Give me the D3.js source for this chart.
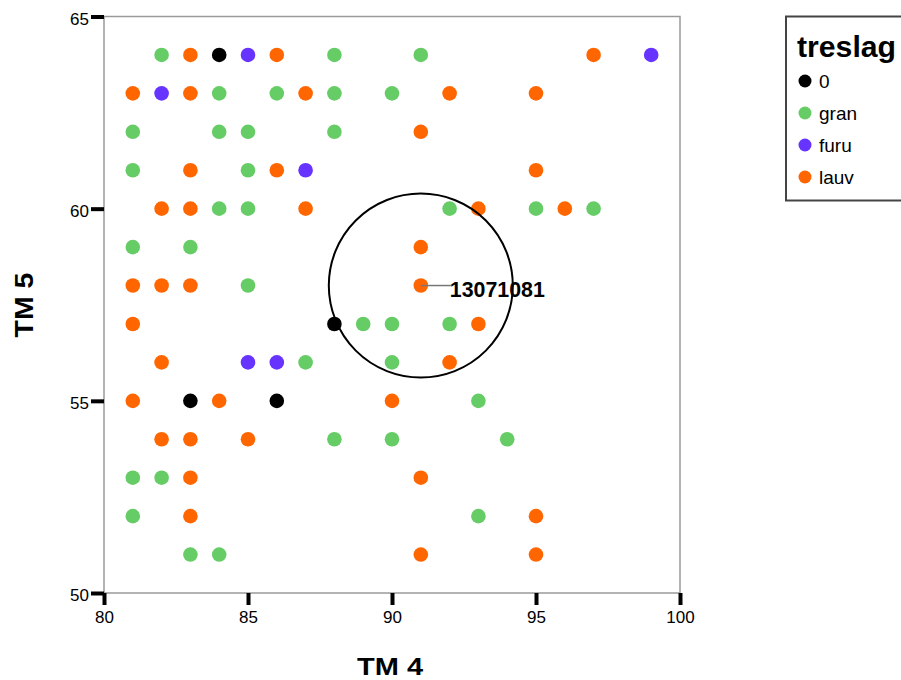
<!DOCTYPE html>
<html>
<head>
<meta charset="utf-8">
<script src="https://cdn.jsdelivr.net/npm/d3@7"></script>
<style>
  html, body { margin: 0; padding: 0; background: #fff; }
  svg { display: block; font-family: "Liberation Sans", Arial, sans-serif; }
</style>
</head>
<body>
<svg id="chart" width="901" height="680"></svg>
<script>
// Tree species groups (treslag) and their colours
const groups = ["0", "gran", "furu", "lauv"];
const groupColors = ["#000000", "#66cc66", "#6633ff", "#ff6600"];

// TM 4 / TM 5 values per group
const tm4_0 = [84, 88, 83, 86];
const tm5_0 = [64, 57, 55, 55];

const tm4_furu = [85, 99, 82, 87, 85, 86];
const tm5_furu = [64, 64, 63, 61, 56, 56];

const tm4_gran = [82, 88, 91, 84, 86, 88, 90, 81, 84, 85, 88, 81, 85, 84, 85, 92, 95, 97,
                  81, 83, 85, 89, 90, 92, 87, 90, 93, 88, 90, 94, 81, 82, 81, 93, 83, 84];
const tm5_gran = [64, 64, 64, 63, 63, 63, 63, 62, 62, 62, 62, 61, 61, 60, 60, 60, 60, 60,
                  59, 59, 58, 57, 57, 57, 56, 56, 55, 54, 54, 54, 53, 53, 52, 52, 51, 51];

const tm4_lauv = [83, 86, 97, 81, 83, 87, 92, 95, 91, 83, 86, 95, 82, 83, 87, 93, 96, 91,
                  81, 82, 83, 91, 81, 93, 82, 92, 81, 84, 90, 82, 83, 85, 83, 91, 83, 95, 91, 95];
const tm5_lauv = [64, 64, 64, 63, 63, 63, 63, 63, 62, 61, 61, 61, 60, 60, 60, 60, 60, 59,
                  58, 58, 58, 58, 57, 57, 56, 56, 55, 55, 55, 54, 54, 54, 53, 53, 52, 52, 51, 51];

// Highlighted case
const markedId = "13071081";
const markedTm4 = 91;
const markedTm5 = 58;

// Axis ticks
const xTicks = [80, 85, 90, 95, 100];
const yTicks = [50, 55, 60, 65];

const series = [
  { name: groups[0], color: groupColors[0], xs: tm4_0, ys: tm5_0 },
  { name: groups[1], color: groupColors[1], xs: tm4_gran, ys: tm5_gran },
  { name: groups[2], color: groupColors[2], xs: tm4_furu, ys: tm5_furu },
  { name: groups[3], color: groupColors[3], xs: tm4_lauv, ys: tm5_lauv }
];

const svg = d3.select("#chart");
const plot = { left: 104, right: 680, top: 16.5, bottom: 593 };

const x = d3.scaleLinear().domain([80, 100]).range([plot.left, plot.right]);
const y = d3.scaleLinear().domain([50, 65]).range([plot.bottom, plot.top]);

// Plot frame
svg.append("rect")
  .attr("x", plot.left).attr("y", plot.top)
  .attr("width", plot.right - plot.left).attr("height", plot.bottom - plot.top)
  .attr("fill", "#fff").attr("stroke", "#9a9a9a").attr("stroke-width", 1.5);

// X axis
const xAxis = svg.append("g")
  .attr("transform", `translate(0,${plot.bottom})`)
  .call(d3.axisBottom(x).tickValues(xTicks).tickSize(12).tickPadding(6).tickFormat(d3.format("d")));
xAxis.select(".domain").remove();
xAxis.selectAll(".tick line").attr("stroke", "#000").attr("stroke-width", 4);
xAxis.selectAll(".tick text").attr("font-size", 17).attr("fill", "#000")
  .attr("font-family", "'Liberation Sans', Arial, sans-serif");

// Y axis
const yAxis = svg.append("g")
  .attr("transform", `translate(${plot.left},0)`)
  .call(d3.axisLeft(y).tickValues(yTicks).tickSize(13).tickPadding(2).tickFormat(d3.format("d")));
yAxis.select(".domain").remove();
yAxis.selectAll(".tick line").attr("stroke", "#000").attr("stroke-width", 4);
yAxis.selectAll(".tick text").attr("font-size", 17).attr("fill", "#000")
  .attr("dy", "0.45em")
  .attr("font-family", "'Liberation Sans', Arial, sans-serif");

// Axis titles
svg.append("text")
  .attr("x", 390).attr("y", 675)
  .attr("text-anchor", "middle")
  .attr("font-size", 24).attr("font-weight", "bold")
  .attr("textLength", 66).attr("lengthAdjust", "spacingAndGlyphs")
  .text("TM 4");

svg.append("text")
  .attr("transform", "translate(33,305) rotate(-90)")
  .attr("text-anchor", "middle")
  .attr("font-size", 25).attr("font-weight", "bold")
  .attr("textLength", 65).attr("lengthAdjust", "spacingAndGlyphs")
  .text("TM 5");

// Points
const pts = svg.append("g");
series.forEach(s => {
  const data = s.xs.map((v, i) => [v, s.ys[i]]);
  pts.selectAll(null).data(data).enter().append("circle")
    .attr("cx", d => x(d[0]))
    .attr("cy", d => y(d[1]))
    .attr("r", 7.3)
    .attr("fill", s.color);
});

// Highlight ring and label
const mx = x(markedTm4), my = y(markedTm5);
svg.append("circle")
  .attr("cx", mx).attr("cy", my).attr("r", 92)
  .attr("fill", "none").attr("stroke", "#000").attr("stroke-width", 2);
svg.append("line")
  .attr("x1", mx).attr("y1", my).attr("x2", mx + 30).attr("y2", my)
  .attr("stroke", "#777").attr("stroke-width", 1.5);
svg.append("text")
  .attr("x", mx + 29).attr("y", my + 11)
  .attr("font-size", 22).attr("font-weight", "bold")
  .attr("textLength", 95).attr("lengthAdjust", "spacingAndGlyphs")
  .text(markedId);

// Legend
const lg = svg.append("g");
lg.append("rect")
  .attr("x", 786).attr("y", 16.5).attr("width", 140).attr("height", 184)
  .attr("fill", "#fff").attr("stroke", "#444").attr("stroke-width", 2);
lg.append("text")
  .attr("x", 797).attr("y", 57)
  .attr("font-size", 29).attr("font-weight", "bold")
  .attr("textLength", 99).attr("lengthAdjust", "spacingAndGlyphs")
  .text("treslag");
groups.forEach((g, i) => {
  const cy = 81 + i * 32;
  lg.append("circle").attr("cx", 805).attr("cy", cy).attr("r", 6.5).attr("fill", groupColors[i]);
  lg.append("text").attr("x", 819).attr("y", cy + 6.5)
    .attr("font-size", 19).attr("fill", "#000").text(g);
});
</script>
</body>
</html>
